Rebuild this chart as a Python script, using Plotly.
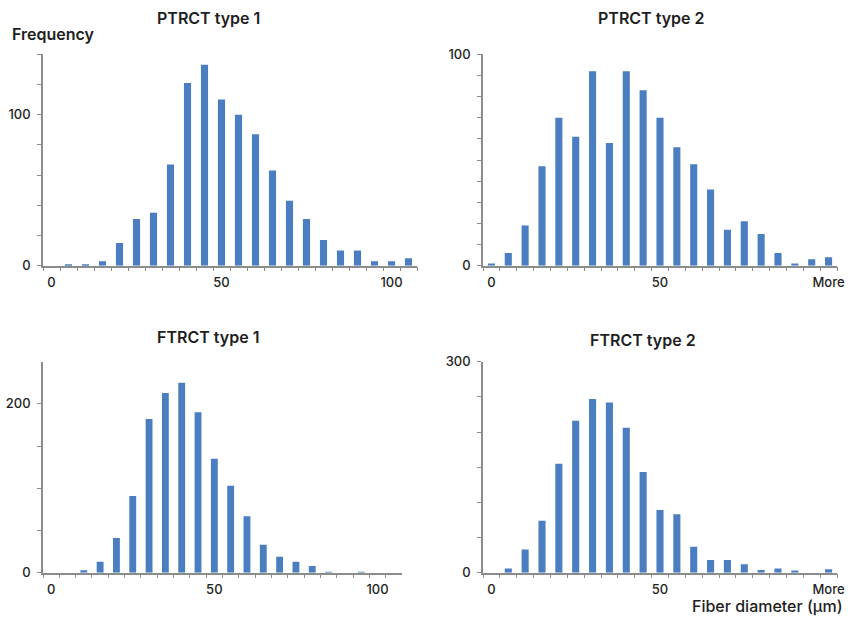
import plotly.graph_objects as go

# ---------------- data ----------------
cats_a = [str(v) for v in range(0, 110, 5)]            # 0..105
cats_b = [str(v) for v in range(0, 100, 5)] + ["More"]  # 0..95, More

ptrct1 = [0, 1, 1, 3, 15, 31, 35, 67, 121, 133, 110, 100, 87, 63, 43, 31, 17, 10, 10, 3, 3, 5]
ptrct2 = [1, 6, 19, 47, 70, 61, 92, 58, 92, 83, 70, 56, 48, 36, 17, 21, 15, 6, 1, 3, 4]
ftrct1 = [0, 0, 3, 13, 41, 91, 182, 213, 225, 190, 135, 103, 67, 33, 19, 13, 8, 1, 0, 1, 0, 0]
ftrct2 = [0, 6, 33, 74, 155, 216, 247, 242, 206, 143, 89, 83, 37, 18, 18, 12, 4, 6, 3, 0, 5]

labels_a = {"0": "0", "50": "50", "100": "100"}
labels_b = {"0": "0", "50": "50", "More": "More"}

titles = ["PTRCT type 1", "PTRCT type 2", "FTRCT type 1", "FTRCT type 2"]
y_ranges = [140, 100, 250, 300]
y_dticks = [20, 10, 50, 50]
y_labels = [[0, 100], [0, 100], [0, 200], [0, 300]]
y_tickmax = [140, 100, 200, 300]

# ---------------- style ----------------
FONT = "Inter"
TXT = "#1e1e1e"
AX = "#8c8c8c"
BAR = "#4a7ec1"

W, H = 848, 618
def px(x): return x / W
def py(y): return 1 - y / H

panels = [
    dict(cats=cats_a, vals=ptrct1, labels=labels_a, x0=43, x1=417, y0=265.7, y1=54.3),
    dict(cats=cats_b, vals=ptrct2, labels=labels_b, x0=483, x1=837, y0=265.7, y1=54.3),
    dict(cats=cats_a, vals=ftrct1, labels=labels_a, x0=43, x1=402, y0=572.7, y1=361.7),
    dict(cats=cats_b, vals=ftrct2, labels=labels_b, x0=483, x1=837, y0=572.7, y1=361.7),
]

fig = go.Figure()
layout = dict(
    width=W, height=H,
    margin=dict(l=0, r=0, t=0, b=0, autoexpand=False),
    paper_bgcolor="white", plot_bgcolor="white",
    showlegend=False, bargap=0.58,
    font=dict(family=FONT, size=13, color=TXT, weight=500),
)

for i, p in enumerate(panels):
    n = "" if i == 0 else str(i + 1)
    fig.add_trace(go.Bar(
        x=p["cats"], y=p["vals"], xaxis="x" + n, yaxis="y" + n,
        marker=dict(color=BAR, line=dict(width=0)),
    ))
    ticks_y = list(range(0, y_tickmax[i] + 1, y_dticks[i]))
    layout["xaxis" + n] = dict(
        type="category", domain=[px(p["x0"]), px(p["x1"])], anchor="y" + n,
        range=[-0.5, len(p["cats"]) - 0.5],
        tickmode="array", tickvals=p["cats"],
        ticktext=[p["labels"].get(c, "") for c in p["cats"]],
        tickson="boundaries", ticks="outside", ticklen=4, tickwidth=1, tickcolor=AX,
        tickangle=0, automargin=False,
        showline=True, linecolor=AX, linewidth=1.5,
        showgrid=False, zeroline=False, ticklabelstandoff=4,
        tickfont=dict(family=FONT, size=13, color=TXT, weight=500),
        fixedrange=True,
    )
    layout["yaxis" + n] = dict(
        domain=[py(p["y0"]), py(p["y1"])], anchor="x" + n,
        range=[0, y_ranges[i]],
        tickmode="array", tickvals=ticks_y,
        ticktext=[str(t) if t in y_labels[i] else "" for t in ticks_y],
        ticks="outside", ticklen=4, tickwidth=1, tickcolor=AX,
        automargin=False,
        showline=True, linecolor=AX, linewidth=1.5,
        showgrid=False, zeroline=False, ticklabelstandoff=4,
        tickfont=dict(family=FONT, size=13, color=TXT, weight=500),
        fixedrange=True,
    )

ann = []
title_pos = [(208, 18), (651, 18), (208, 337), (643, 340)]
for t, (x, y) in zip(titles, title_pos):
    ann.append(dict(text=t, x=px(x), y=py(y), xref="paper", yref="paper",
                    xanchor="center", yanchor="middle", showarrow=False,
                    font=dict(family=FONT, size=16, color=TXT, weight=600)))
ann.append(dict(text="Frequency", x=px(10), y=py(34), xref="paper", yref="paper",
                xanchor="left", yanchor="middle", showarrow=False,
                font=dict(family=FONT, size=16, color=TXT, weight=600)))
ann.append(dict(text="Fiber diameter (µm)", x=px(845), y=py(606), xref="paper", yref="paper",
                xanchor="right", yanchor="middle", showarrow=False,
                font=dict(family=FONT, size=16, color=TXT, weight=500)))
layout["annotations"] = ann

fig.update_layout(**layout)
fig.write_html(
    "out.html",
    config={"displayModeBar": False},
    post_script="document.body.style.margin='0';document.body.style.overflow='hidden';",
)
